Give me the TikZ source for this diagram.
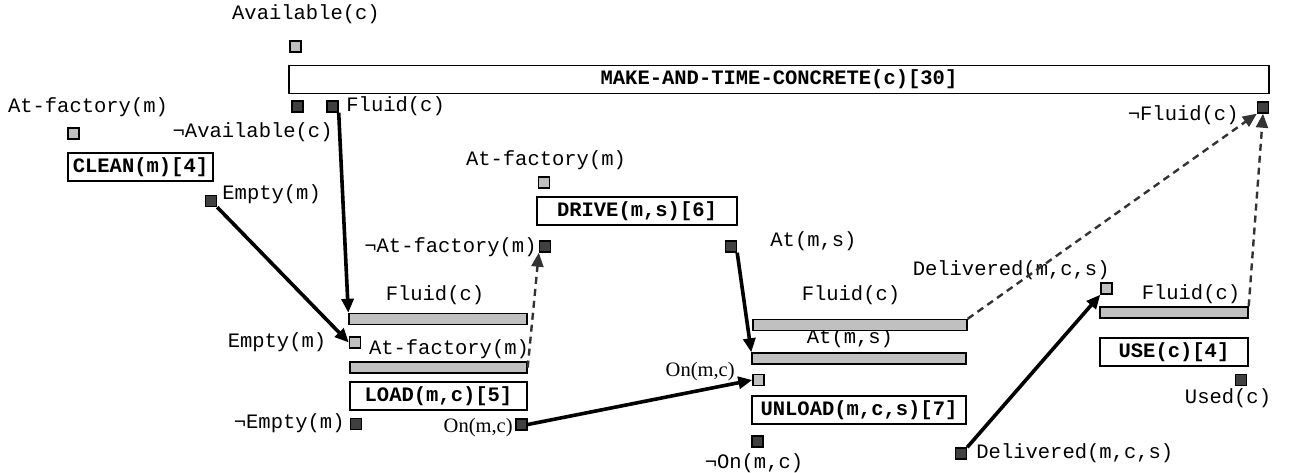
\documentclass[tikz,border=0pt]{standalone}
\usepackage{fontspec}
\usepackage{xcolor}
\usepackage{tikz}
\usetikzlibrary{arrows.meta}
\newfontfamily\courfont{Liberation Mono}
\newfontfamily\romfont{Liberation Serif}
\definecolor{litgray}{HTML}{C0C0C0}
\definecolor{dkgray}{HTML}{404040}
\definecolor{dashgray}{HTML}{333333}

\begin{document}
\begin{tikzpicture}[x=0.5pt,y=-0.5pt,
    lbl/.style={font=\courfont\fontsize{10.25}{12}\selectfont,inner sep=0pt},
    tnr/.style={font=\romfont\fontsize{10.25}{12}\selectfont,inner sep=0pt},
    act/.style={draw,line width=0.8pt,inner sep=0pt,minimum height=14pt,
        font=\courfont\bfseries\fontsize{10.25}{12}\selectfont},
    bar/.style={draw,fill=litgray,line width=0.7pt,inner sep=0pt,minimum height=5.5pt},
    pre/.style={draw,fill=litgray,line width=0.7pt,inner sep=0pt,minimum size=5.5pt},
    eff/.style={draw,fill=dkgray,line width=0.7pt,inner sep=0pt,minimum size=5.5pt},
    link/.style={line width=1.8pt,-{Triangle[length=7pt,width=6pt]}},
    threat/.style={line width=1.2pt,dashgray,dash pattern=on 3.5pt off 2.5pt,
        -{Triangle[length=7pt,width=6pt]}}]
    \useasboundingbox (0,0) rectangle (1292,472);

    % MAKE-AND-TIME-CONCRETE
    \node[lbl] (avl) at (306,14) {Available(c)};
    \node[pre] (mk0) at (295.5,46.5) {};
    \node[act,minimum width=490pt] (make) at (779,79.5) {MAKE-AND-TIME-CONCRETE(c)[30]};
    \node[eff] (mk1) at (297.5,106.5) {};
    \node[eff] (mk2) at (332.5,106.5) {};
    \node[eff] (mk3) at (1263,107.5) {};
    \node[lbl,anchor=west] (mkfl) at (346,106) {Fluid(c)};
    \node[lbl,anchor=east] (mkna) at (333,132) {¬Available(c)};
    \node[lbl,anchor=east] (mknf) at (1239,115) {¬Fluid(c)};

    % CLEAN
    \node[lbl] (clat) at (88,107) {At-factory(m)};
    \node[pre] (cl1) at (73.5,133.5) {};
    \node[act,minimum width=72.5pt] (clean) at (140.5,166.7) {CLEAN(m)[4]};
    \node[eff] (cl2) at (211,201) {};
    \node[lbl,anchor=west] (clem) at (222,194) {Empty(m)};

    % DRIVE
    \node[lbl] (drat) at (546,160) {At-factory(m)};
    \node[pre] (dr1) at (544,182.5) {};
    \node[act,minimum width=100pt] (drive) at (637,211) {DRIVE(m,s)[6]};
    \node[eff] (dr2) at (545,246.5) {};
    \node[eff] (dr3) at (731,246.5) {};
    \node[lbl,anchor=east] (drna) at (537,247) {¬At-factory(m)};
    \node[lbl,anchor=west] (drms) at (770,241) {At(m,s)};

    % LOAD
    \node[lbl] (ldfl) at (435,295) {Fluid(c)};
    \node[lbl] (ldem) at (277,342) {Empty(m)};
    \node[lbl] (ldat) at (449,349) {At-factory(m)};
    \node[bar,minimum width=89pt] (ldb1) at (438,319) {};
    \node[bar,minimum width=88.5pt] (ldb2) at (438.5,367.5) {};
    \node[pre] (ld1) at (355,342.5) {};
    \node[act,minimum width=88.5pt] (load) at (438.5,396) {LOAD(m,c)[5]};
    \node[eff] (ld2) at (356,424) {};
    \node[eff] (ld3) at (521.5,424.5) {};
    \node[lbl,anchor=east] (ldne) at (345,423) {¬Empty(m)};
    \node[tnr,anchor=east] (ldon) at (513,428) {On(m,c)};

    % UNLOAD
    \node[lbl] (ulfl) at (851,295) {Fluid(c)};
    \node[lbl] (ulms) at (850,338) {At(m,s)};
    \node[bar,minimum width=107pt] (ulb1) at (860,325) {};
    \node[bar,minimum width=107pt] (ulb2) at (859,358.5) {};
    \node[pre] (ul1) at (758.5,380) {};
    \node[tnr,anchor=east] (ulon) at (735,372) {On(m,c)};
    \node[act,minimum width=107pt] (unload) at (859,410) {UNLOAD(m,c,s)[7]};
    \node[eff] (ul2) at (757.5,441.5) {};
    \node[lbl] (ulno) at (754,463) {¬On(m,c)};
    \node[eff] (ul3) at (961,453.5) {};
    \node[lbl,anchor=west] (uldl) at (976,453.5) {Delivered(m,c,s)};

    % USE
    \node[lbl,anchor=east] (usdl) at (1110,270) {Delivered(m,c,s)};
    \node[pre] (us1) at (1106.5,288.5) {};
    \node[lbl] (usfl) at (1191,294) {Fluid(c)};
    \node[bar,minimum width=74pt] (usb) at (1174,312.5) {};
    \node[act,minimum width=74pt] (use) at (1174,352) {USE(c)[4]};
    \node[eff] (us2) at (1241,380) {};
    \node[lbl] (usud) at (1228,398) {Used(c)};

    % causal links
    \draw[link] (cl2.south east) -- (ld1.west);
    \draw[link] (mk2.south east) -- (ldb1.north west);
    \draw[link] (dr3.south east) -- (ulb2.north west);
    \draw[link] (ld3.east) -- (ul1.west);
    \draw[link] (ul3.north east) -- (us1.south west);

    % threats
    \draw[threat] (ldb2.east) -- (dr2.south west);
    \draw[threat] (ulb1.north east) -- (mk3.south west);
    \draw[threat] (usb.north east) -- (mk3.south);
\end{tikzpicture}
\end{document}
